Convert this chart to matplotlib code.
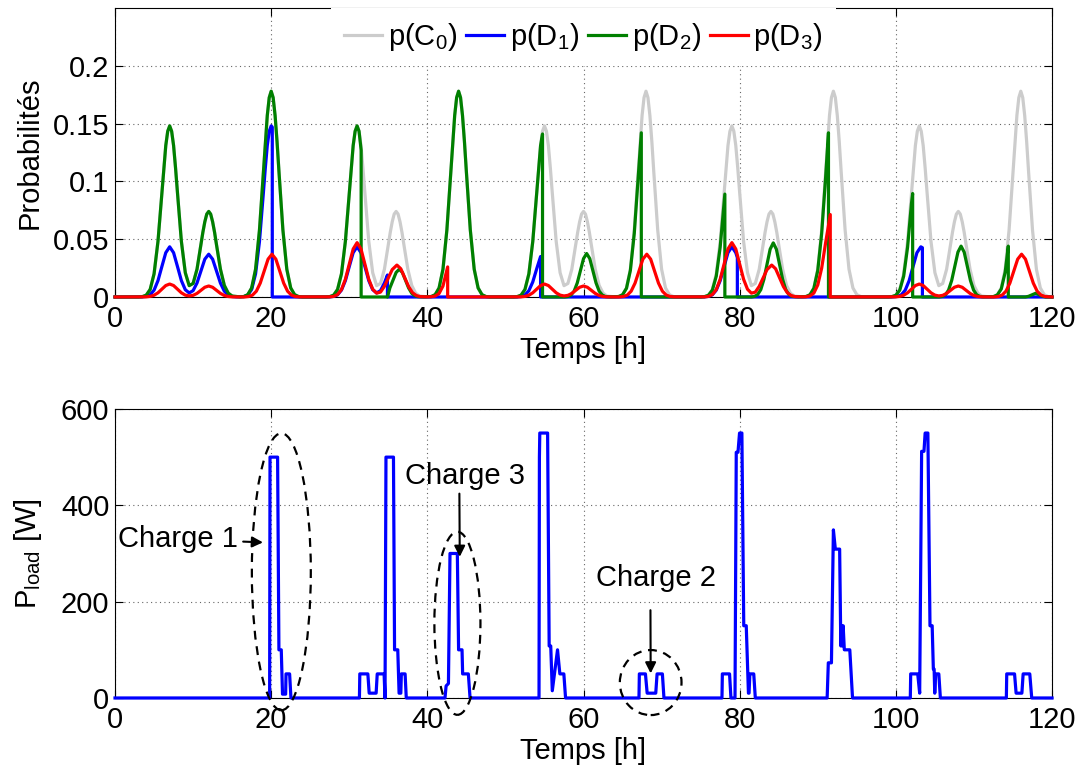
import numpy as np
import matplotlib
matplotlib.use('Agg')
import matplotlib.pyplot as plt
from matplotlib.patches import Ellipse

plt.rcParams['font.family'] = ['Liberation Sans', 'DejaVu Sans']
plt.rcParams['mathtext.default'] = 'regular'
plt.rcParams['font.size'] = 21

# p(C0): one day, same every 24 h
c0_day = [(0, 0), (3, 0), (3.5, 0.0003), (4, 0.0016), (4.5, 0.0065), (5, 0.020), (5.5, 0.048),
          (6, 0.090), (6.25, 0.1117), (6.5, 0.131), (6.75, 0.1434), (7, 0.148), (7.25, 0.1434),
          (7.5, 0.131), (7.75, 0.1117), (8, 0.090), (8.5, 0.048),
          (9, 0.021), (9.5, 0.0098), (10, 0.0117), (10.5, 0.024), (11, 0.045), (11.25, 0.0559),
          (11.5, 0.065), (11.75, 0.0717), (12, 0.074), (12.25, 0.0717), (12.5, 0.065),
          (12.75, 0.0559), (13, 0.045), (13.5, 0.024), (14, 0.010), (14.5, 0.0033),
          (15, 0.0008), (16, 0.0001), (16.5, 0.0004), (17, 0.002), (17.5, 0.0078), (18, 0.024),
          (18.5, 0.058), (19, 0.108), (19.25, 0.1344), (19.5, 0.157), (19.75, 0.1725),
          (20, 0.178), (20.25, 0.1725), (20.5, 0.157), (20.75, 0.1344), (21, 0.108),
          (21.5, 0.058), (22, 0.024), (22.5, 0.0078), (23, 0.002), (23.5, 0.0004)]
n_days = 5

# p(D2): day 1 equals p(C0), then
d2_after_day1 = [
    (24, 0), (27, 0), (27.5, 0.0003), (28, 0.0016), (28.5, 0.0065), (29, 0.020), (29.5, 0.048),
    (30, 0.090), (30.25, 0.1117), (30.5, 0.131), (30.75, 0.1434), (31, 0.148), (31.25, 0.1434),
    (31.52, 0.127), (31.52, 0),
    (34.9, 0), (35.2, 0.0078), (35.6, 0.0146), (36.0, 0.0212), (36.4, 0.024), (36.8, 0.0212),
    (37.2, 0.0146), (37.6, 0.0078), (38.0, 0.0032), (38.4, 0.0011), (38.8, 0.0003), (39.5, 0.0001),
    (40.5, 0.0004), (41, 0.002), (41.5, 0.0078), (42, 0.024), (42.5, 0.058), (43, 0.108),
    (43.25, 0.1344), (43.5, 0.157), (43.75, 0.1725), (44, 0.178), (44.25, 0.1725), (44.5, 0.157),
    (44.75, 0.1344), (45, 0.108), (45.5, 0.058), (46, 0.024),
    (46.5, 0.0078), (47, 0.002), (47.5, 0.0004), (48, 0),
    (51, 0), (51.5, 0.0003), (52, 0.0016), (52.5, 0.0065), (53, 0.020), (53.5, 0.048),
    (54, 0.090), (54.25, 0.1117), (54.5, 0.131), (54.75, 0.141), (54.75, 0),
    (57.6, 0), (58.0, 0.0004), (58.4, 0.0017), (58.8, 0.0051), (59.2, 0.0122), (59.6, 0.0228),
    (60.0, 0.0332), (60.4, 0.0376), (60.8, 0.0332), (61.2, 0.0228), (61.6, 0.0122), (62.0, 0.0051),
    (62.4, 0.0017), (62.8, 0.0004), (63.5, 0.0001), (64.5, 0.0004), (65, 0.0019), (65.5, 0.0075),
    (66, 0.023), (66.5, 0.055), (67, 0.103), (67.4, 0.142), (67.4, 0),
    (75, 0), (75.5, 0.0003), (76, 0.0015), (76.5, 0.0059), (77, 0.018), (77.5, 0.043),
    (78, 0.081), (78.1, 0.089), (78.1, 0),
    (81.5, 0), (81.9, 0.0005), (82.3, 0.0021), (82.7, 0.0063), (83.1, 0.0152), (83.5, 0.0284),
    (83.9, 0.0413), (84.3, 0.0468), (84.7, 0.0413), (85.1, 0.0284), (85.5, 0.0152), (85.9, 0.0063),
    (86.3, 0.0021), (86.7, 0.0005), (87.5, 0.0001), (88.5, 0.0004), (89, 0.0019), (89.5, 0.0075),
    (90, 0.023), (90.5, 0.055), (91, 0.103), (91.37, 0.142), (91.37, 0),
    (99, 0), (99.5, 0.0003), (100, 0.0015), (100.5, 0.0059), (101, 0.018), (101.5, 0.043),
    (102, 0.081), (102.15, 0.0895), (102.15, 0),
    (105.55, 0), (105.95, 0.0005), (106.35, 0.0019), (106.75, 0.0060), (107.15, 0.0143),
    (107.55, 0.0267), (107.95, 0.0388), (108.35, 0.044), (108.75, 0.0388), (109.15, 0.0267),
    (109.55, 0.0143), (109.95, 0.0060), (110.35, 0.0019), (110.75, 0.0005), (111.15, 0.0001),
    (112.5, 0.0003), (113, 0.0018), (113.5, 0.0069), (114, 0.0214), (114.4, 0.044), (114.4, 0),
    (116.6, 0), (117.0, 0.0006), (117.4, 0.0018), (117.9, 0.0032), (118.4, 0.0018),
    (118.8, 0.0006), (119.2, 0), (120, 0)]

# p(D1)
d1_pts = [
    (0, 0), (3.5, 0.0001), (4, 0.0005), (4.5, 0.0019), (5, 0.0059), (5.5, 0.0141), (6, 0.0263),
    (6.5, 0.0383), (7, 0.0434), (7.5, 0.0383), (8, 0.0263), (8.5, 0.0141), (9, 0.0063),
    (9.5, 0.0035), (10, 0.0055), (10.5, 0.0121), (11, 0.0224), (11.5, 0.0327), (12, 0.037),
    (12.5, 0.0327), (13, 0.0224), (13.5, 0.012), (14, 0.005), (14.5, 0.0016), (15, 0.0004),
    (15.5, 0.0001), (16.5, 0.0003), (17, 0.0016), (17.5, 0.0065), (18, 0.020), (18.5, 0.048),
    (19, 0.090), (19.25, 0.1117), (19.5, 0.131), (19.75, 0.1434), (20, 0.148), (20.14, 0.147),
    (20.14, 0),
    (27, 0), (27.5, 0.0001), (28, 0.0005), (28.5, 0.0019), (29, 0.0059), (29.5, 0.0141),
    (30, 0.0263), (30.5, 0.0383), (31, 0.0434), (31.5, 0.0383), (32, 0.0263), (32.5, 0.0141),
    (33, 0.0063), (33.5, 0.0035), (34, 0.0055), (34.5, 0.0121), (34.89, 0.019), (34.89, 0),
    (51.5, 0), (52, 0.0004), (52.5, 0.0018), (53, 0.0054), (53.5, 0.013), (54, 0.0243),
    (54.5, 0.035), (54.5, 0),
    (75, 0), (75.5, 0.0001), (76, 0.0005), (76.5, 0.0019), (77, 0.0059), (77.5, 0.0141),
    (78, 0.0263), (78.5, 0.0383), (79, 0.0434), (79.5, 0.0383), (79.7, 0.034), (79.7, 0),
    (99.2, 0), (99.7, 0.0001), (100.2, 0.0005), (100.7, 0.0019), (101.2, 0.0059), (101.7, 0.0141),
    (102.2, 0.0263), (102.7, 0.0383), (103.2, 0.0434), (103.4, 0.0426), (103.4, 0), (120, 0)]

# p(D3): two day shapes (A on days 1/3/5, B on days 2/4) + the two cut-off rises
d3_day_a = [(4, 0.0001), (4.5, 0.0005), (5, 0.0015), (5.5, 0.0036), (6, 0.0068), (6.5, 0.0099),
            (7, 0.0112), (7.5, 0.0099), (8, 0.0068), (8.5, 0.0036), (9, 0.0016), (9.5, 0.0009),
            (10, 0.0014), (10.5, 0.0031), (11, 0.0058), (11.5, 0.0084), (12, 0.0095), (12.5, 0.0084),
            (13, 0.0058), (13.5, 0.0031), (14, 0.0013), (14.5, 0.0004), (15, 0.0001), (16.6, 0),
            (17.1, 0.0004), (17.6, 0.0016), (18.1, 0.005), (18.6, 0.012), (19.1, 0.0224),
            (19.6, 0.0327), (20.1, 0.037), (20.6, 0.0327), (21.1, 0.0224), (21.6, 0.012),
            (22.1, 0.005), (22.6, 0.0016), (23.1, 0.0004), (23.6, 0.0001)]
d3_day_b = [(3.5, 0.0001), (4, 0.0005), (4.5, 0.0021), (5, 0.0064), (5.5, 0.0153), (6, 0.0285),
            (6.5, 0.0415), (7, 0.047), (7.5, 0.0415), (8, 0.0285), (8.5, 0.0153), (9, 0.0067),
            (9.5, 0.0033), (10, 0.0042), (10.5, 0.0092), (11, 0.0165), (11.5, 0.0237),
            (12.1, 0.0276), (12.6, 0.0244), (13.1, 0.0167), (13.6, 0.009), (14.1, 0.0037),
            (14.6, 0.0012), (15.1, 0.0003), (16, 0.0001)]
d3_cut_day2 = [(16.5, 0.0002), (17, 0.0008), (17.5, 0.003), (18, 0.0095), (18.6, 0.026), (18.6, 0)]
d3_cut_day4 = [(16.5, 0.0002), (17, 0.0009), (17.5, 0.0034), (18, 0.0104), (18.5, 0.025),
               (19, 0.0467), (19.6, 0.0713), (19.6, 0)]

# P_load [W]
load_pts = [
    (0, 0), (19.8, 0), (19.85, 500), (20.82, 500), (20.99, 100), (21.29, 100), (21.45, 8),
    (21.85, 8), (21.9, 50), (22.36, 50), (22.53, 0),
    (31.3, 0), (31.35, 50), (32.38, 50), (32.55, 10), (33.44, 10), (33.58, 50), (34.46, 50),
    (34.58, 0), (34.7, 500), (35.66, 500), (35.8, 100), (36.21, 100), (36.38, 10), (36.6, 10),
    (36.67, 50), (37.15, 50), (37.3, 0),
    (42.26, 0), (42.4, 25), (42.7, 30), (42.9, 300), (43.84, 300), (44.0, 100), (44.44, 100),
    (44.52, 50), (45.25, 50), (45.47, 0),
    (54.3, 0), (54.35, 500), (54.4, 550), (55.4, 550), (55.6, 108), (55.8, 108), (56.0, 15),
    (56.67, 100), (56.97, 50), (57.48, 50), (57.7, 0),
    (67.1, 0), (67.15, 50), (67.93, 50), (68.15, 10), (69.25, 10), (69.42, 50), (70.1, 50),
    (70.3, 0),
    (77.73, 0), (77.78, 50), (78.7, 50), (78.88, 0), (79.4, 0), (79.56, 510), (79.78, 510),
    (79.98, 550), (80.28, 550), (80.52, 150), (80.84, 150), (81.12, 10), (81.2, 10), (81.3, 50),
    (81.8, 50), (82.0, 0),
    (91.2, 0), (91.35, 73), (91.75, 73), (92.0, 349), (92.25, 309), (92.8, 309), (92.95, 108),
    (93.05, 150), (93.15, 108), (93.25, 150), (93.4, 100), (94.1, 100), (94.45, 0),
    (101.85, 0), (101.9, 50), (102.8, 50), (103.05, 10), (103.3, 512), (103.6, 512), (103.75, 550),
    (104.1, 550), (104.37, 150), (104.65, 150), (104.8, 60), (104.9, 60), (104.98, 10),
    (105.1, 50), (105.5, 50), (105.7, 0),
    (114.15, 0), (114.2, 50), (115.2, 50), (115.4, 10), (116.14, 10), (116.3, 50), (117.15, 50),
    (117.4, 0), (120, 0)]

# dashed ellipses around the three loads: (label, centre t, centre P, width, height)
charges = [('Charge 1', 21.3, 262, 7.55, 575),
           ('Charge 2', 68.6, 32, 7.9, 135),
           ('Charge 3', 43.85, 155, 5.9, 380)]


def shift(pts, dt):
    return [(t + dt, p) for t, p in pts]


def unzip(pts):
    a = np.array(pts, dtype=float)
    return a[:, 0], a[:, 1]


c0_pts = []
for d in range(n_days):
    c0_pts += shift(c0_day, 24 * d)
c0_pts.append((120, 0))

d2_pts = list(c0_day) + d2_after_day1

d3_pts = ([(0, 0)] + d3_day_a + shift(d3_day_b, 24) + shift(d3_cut_day2, 24)
          + shift(d3_day_a, 48) + shift(d3_day_b, 72) + shift(d3_cut_day4, 72)
          + shift(d3_day_a, 96) + [(120, 0)])

fig = plt.figure(figsize=(10.81, 7.66), dpi=100)
ax1 = fig.add_axes([0.1064, 0.6123, 0.8668, 0.3773])
ax2 = fig.add_axes([0.1064, 0.0888, 0.8668, 0.3773])

lw = 2.3
series = [('p(C$_0$)', c0_pts, '#cccccc', 3),
          ('p(D$_1$)', d1_pts, '#0000ff', 4),
          ('p(D$_2$)', d2_pts, '#008000', 5),
          ('p(D$_3$)', d3_pts, '#ff0000', 6)]
for label, pts, col, z in series:
    t, p = unzip(pts)
    ax1.plot(t, p, color=col, lw=lw, label=label, zorder=z, clip_on=False)

t, p = unzip(load_pts)
ax2.plot(t, p, color='#0000ff', lw=lw, zorder=4, clip_on=False)

for ax in (ax1, ax2):
    ax.set_xlim(0, 120)
    ax.set_xticks(range(0, 121, 20))
    ax.grid(True, color='0.4', linestyle=(0, (1, 3)), linewidth=0.8)
    ax.tick_params(direction='in', top=True, right=True, length=6, width=0.8)
    ax.tick_params(axis='x', pad=6)
    ax.tick_params(axis='y', pad=4)
    for s in ax.spines.values():
        s.set_linewidth(0.8)
    ax.set_xlabel('Temps [h]')
    ax.xaxis.set_label_coords(0.5, -0.135)
    ax.yaxis.set_label_coords(-0.076, 0.5)

ax1.set_ylim(0, 0.25)
ax1.set_yticks([0, 0.05, 0.1, 0.15, 0.2])
ax1.set_yticklabels(['0', '0.05', '0.1', '0.15', '0.2'])
ax1.set_ylabel('Probabilités')
leg = ax1.legend(loc='upper center', bbox_to_anchor=(0.5, 1.0), ncol=4, borderaxespad=0,
                 handlelength=1.3, handletextpad=0.2, columnspacing=0.3, borderpad=0.45,
                 fancybox=False, framealpha=1)
leg.get_frame().set_edgecolor('none')

ax2.set_ylim(0, 600)
ax2.set_yticks([0, 200, 400, 600])
ax2.set_ylabel('P$_{load}$ [W]')

for name, cx, cy, w, h in charges:
    ax2.add_patch(Ellipse((cx, cy), w, h, fill=False, edgecolor='black', lw=1.6,
                          linestyle=(0, (4, 3)), clip_on=False, zorder=6))

arrow = dict(arrowstyle='-|>', color='black', lw=1.5, mutation_scale=16, shrinkA=2, shrinkB=0)
ax2.annotate('Charge 1', xy=(18.95, 323), xytext=(15.7, 330), ha='right', va='center',
             arrowprops=arrow, zorder=7)
ax2.annotate('', xy=(44.15, 293), xytext=(44.1, 430), arrowprops=arrow, zorder=7)
ax2.text(44.86, 460, 'Charge 3', ha='center', va='center')
ax2.annotate('', xy=(68.6, 51), xytext=(68.57, 188), arrowprops=arrow, zorder=7)
ax2.text(69.33, 249, 'Charge 2', ha='center', va='center')

fig.savefig('out.png', dpi=100)
